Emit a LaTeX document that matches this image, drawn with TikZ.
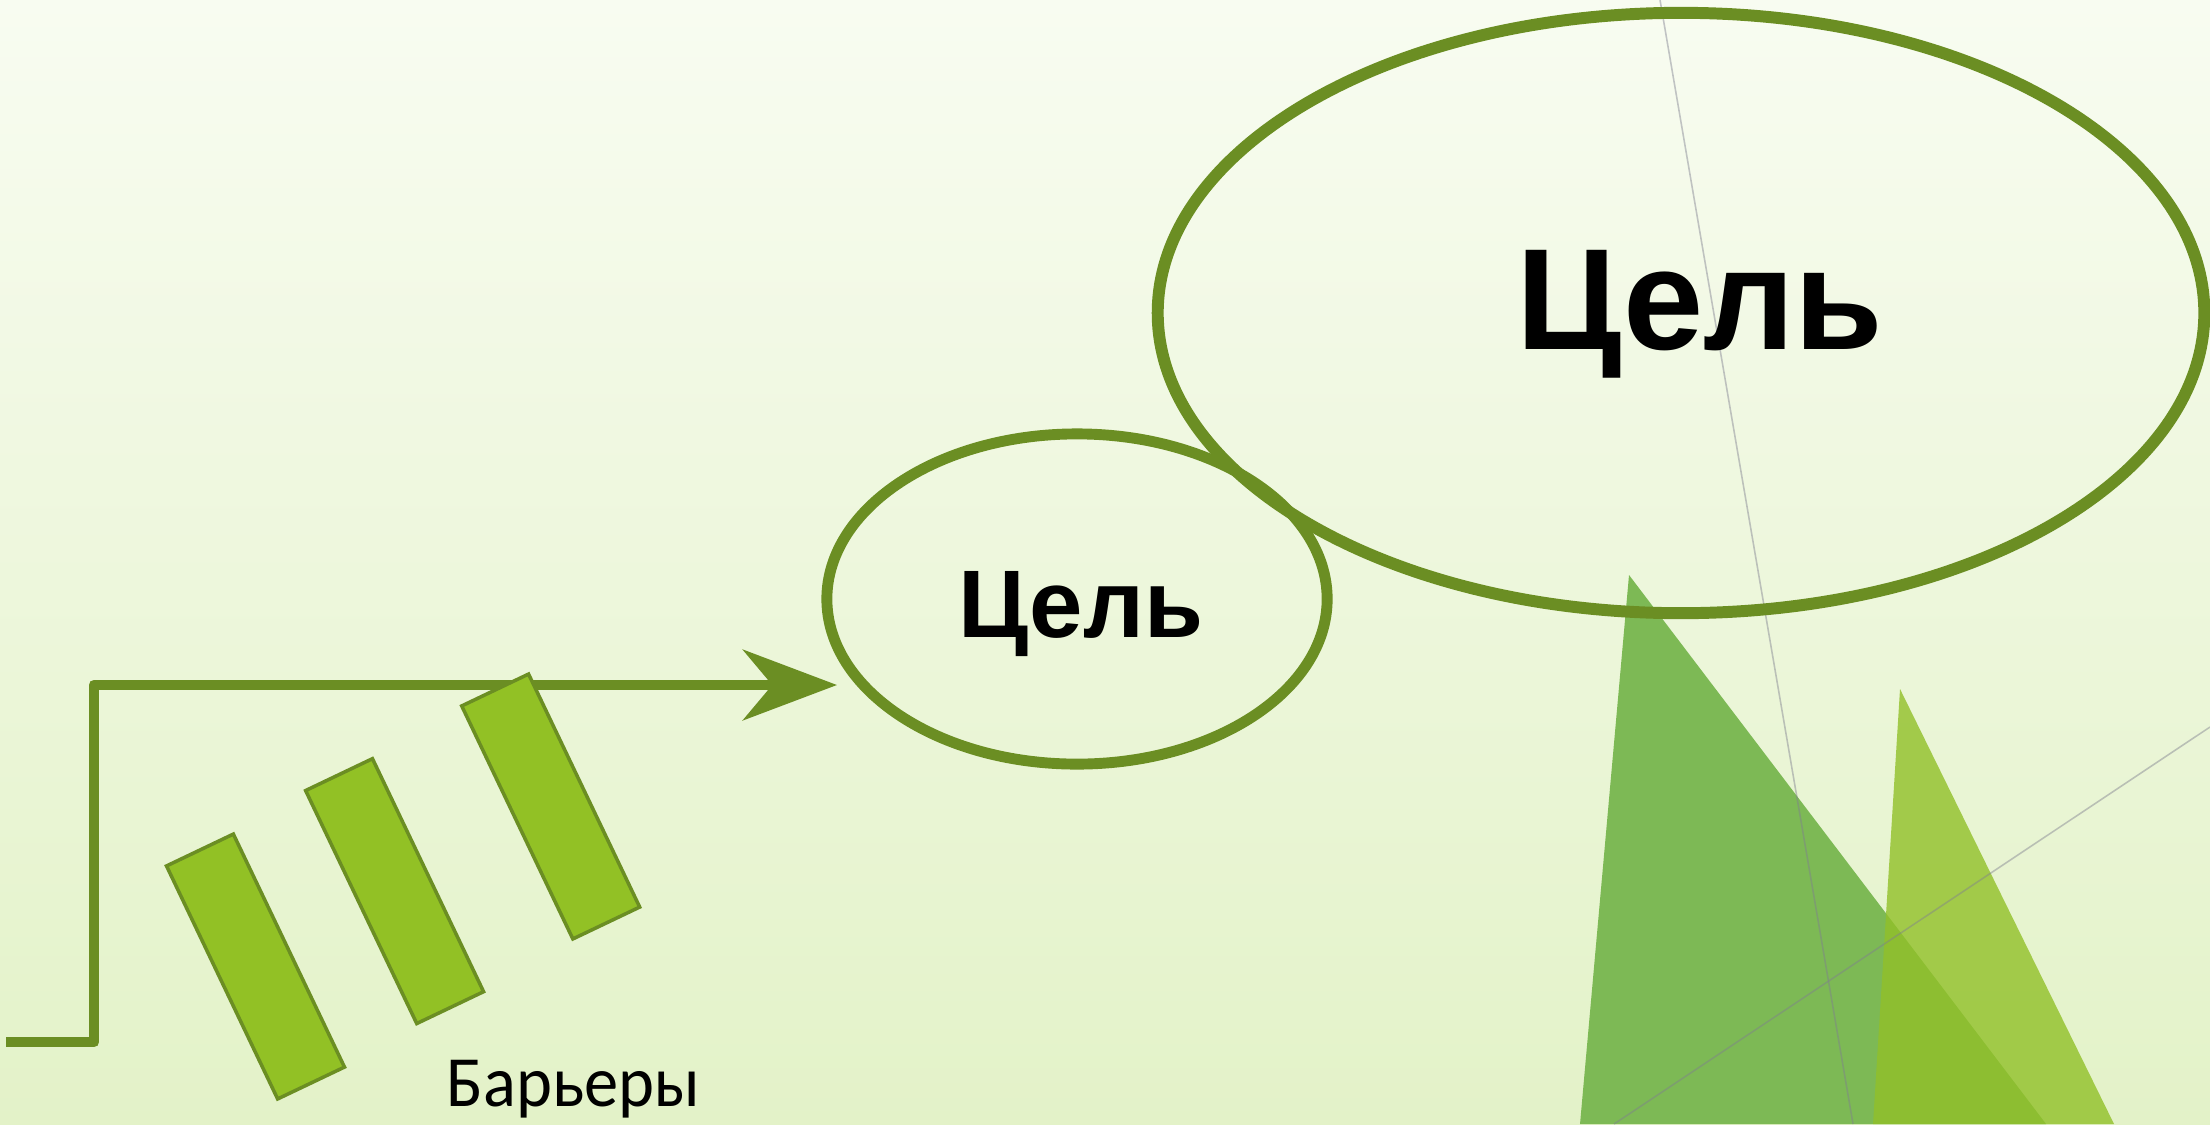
\documentclass[tikz,border=0pt]{standalone}
\usepackage{fontspec}
\setmainfont{Liberation Sans}
\newfontfamily\labelfont[FakeStretch=0.95]{Carlito}
\usetikzlibrary{shapes.geometric,arrows.meta}
\definecolor{bgtop}{HTML}{F8FCF1}
\definecolor{bgbot}{HTML}{E3F2C8}
\definecolor{olive}{HTML}{6B8E23}
\definecolor{barfill}{HTML}{92C125}
\definecolor{triA}{HTML}{7DB955}
\definecolor{triB}{HTML}{91C028}
\definecolor{thinline}{HTML}{7F7F8F}
\tikzset{
  goal/.style={ellipse, draw=olive, inner sep=0pt},
  barrier/.style={rectangle, draw=olive, fill=barfill, line width=1pt, inner sep=0pt,
    minimum width=0.74cm, minimum height=2.58cm, rotate=25.5},
  path arrow/.style={draw=olive, line width=3.1pt, line join=round,
    -{Stealth[length=26.7pt, width=20pt, inset=8.3pt]}},
  guide/.style={draw=thinline, opacity=0.45, line width=0.45pt},
}
\begin{document}
\begin{tikzpicture}[x=0.01cm, y=-0.01cm]
\useasboundingbox (0,0) rectangle (2210,1124);
\shade[top color=bgtop, bottom color=bgbot] (0,0) rectangle (2210,1124);
% triangles
\fill[triA] (1629,575) -- (2046,1124) -- (1580,1124) -- cycle;
\fill[triB, opacity=0.8] (1900,689) -- (2114,1124) -- (1873,1124) -- cycle;
% thin guide lines
\coordinate (g1a) at (1660,0);
\coordinate (g1b) at (1853,1124);
\coordinate (g2a) at (2210,727);
\coordinate (g2b) at (1614,1124);
\draw[guide] (g1a) -- (g1b);
\draw[guide] (g2a) -- (g2b);
% goals
\node[goal, line width=3.4pt, minimum width=10.46cm, minimum height=6.0cm] (big) at (1681,313) {};
\node[goal, line width=3.1pt, minimum width=5.0cm, minimum height=3.3cm] (small) at (1077,599) {};
\node[anchor=base, inner sep=0pt, font=\bfseries\fontsize{41}{41}\selectfont] (bigtext) at (1700,349.5) {Цель};
\node[anchor=base, inner sep=0pt, font=\bfseries\fontsize{27.3}{27.3}\selectfont] (smalltext) at (1081,637) {Цель};
% path arrow
\coordinate (start) at (6,1042);
\coordinate (bendA) at (94,1042);
\coordinate (bendB) at (94,685);
\coordinate (tip) at (837,685);
\draw[path arrow] (start) -- (bendA) -- (bendB) -- (tip);
% barriers
\node[barrier] (bar1) at (255.5,966.5) {};
\node[barrier] (bar2) at (394.6,891.1) {};
\node[barrier] (bar3) at (550.7,806.5) {};
\node[anchor=base west, inner sep=0pt, font=\labelfont\fontsize{20.5}{20.5}\selectfont] (lbl) at (446,1106) {Барьеры};
\end{tikzpicture}
\end{document}
